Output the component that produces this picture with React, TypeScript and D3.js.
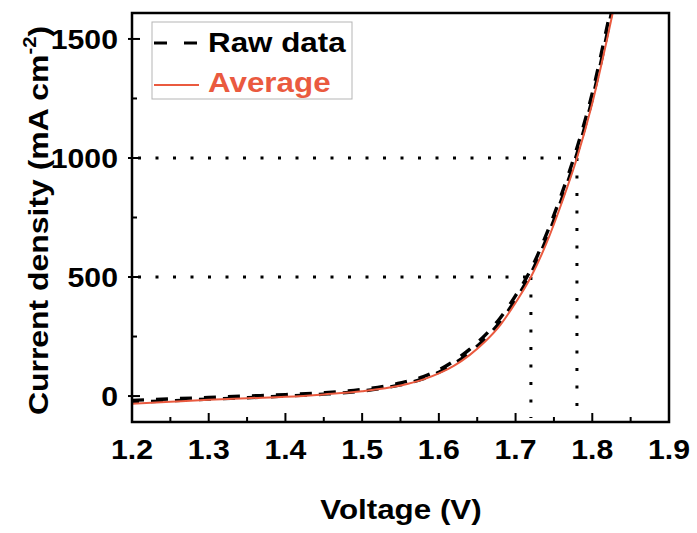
import * as d3 from 'd3'

// J–V data (V in volts, J in mA cm^-2)
const voltage = [1.2, 1.25, 1.3, 1.35, 1.4, 1.45, 1.5, 1.55, 1.58, 1.6, 1.62, 1.64, 1.66, 1.68, 1.7, 1.72, 1.74, 1.76, 1.78, 1.8, 1.82, 1.83]
const rawA = [-18, -12, -6, 0, 6, 14, 28, 55, 82, 110, 148, 196, 255, 328, 422, 532, 678, 848, 1042, 1272, 1562, 1710]
const rawB = [-26, -20, -13, -7, 0, 8, 21, 47, 73, 100, 136, 182, 240, 312, 405, 515, 658, 826, 1018, 1248, 1532, 1690]
const average = [-32, -24, -16, -9, -3, 7, 20, 44, 70, 95, 128, 172, 228, 298, 392, 500, 640, 810, 1000, 1230, 1510, 1660]

const xTicks = [1.2, 1.3, 1.4, 1.5, 1.6, 1.7, 1.8, 1.9]
const xMinor = [1.25, 1.35, 1.45, 1.55, 1.65, 1.75, 1.85]
const yTicks = [0, 500, 1000, 1500]
const yMinor = [250, 750, 1250]
// marked operating points: [V, J]
const guides = [[1.72, 500], [1.78, 1000]]

const W = 697, H = 533
const M = { left: 132, right: 669, top: 13, bottom: 422 }
const RED = '#ea5a3f'
const FONT = '"Liberation Sans", Arial, sans-serif'
const SX = 1.12 // the reference text is a bit wide

export default function App() {
  const x = d3.scaleLinear().domain([1.2, 1.9]).range([M.left, M.right])
  const y = d3.scaleLinear().domain([-109, 1609]).range([M.bottom, M.top])

  const line = (vals: number[]) =>
    d3.line<number>().x((_, i) => x(voltage[i])).y(d => y(d)).curve(d3.curveMonotoneX)(vals) || ''

  const txt = (s: string, tx: number, ty: number, size: number, anchor: string, fill = '#000') => (
    <text transform={`translate(${tx},${ty}) scale(${SX},1)`} textAnchor={anchor} fontSize={size}
      fontWeight="bold" fontFamily={FONT} fill={fill}>{s}</text>
  )

  return (
    <svg width={W} height={H} style={{ position: 'absolute', left: 0, top: 0, background: '#fff' }}>
      <defs>
        <clipPath id="plot">
          <rect x={M.left} y={M.top} width={M.right - M.left} height={M.bottom - M.top} />
        </clipPath>
      </defs>

      {/* guide lines */}
      {guides.map(([v, j]) => (
        <g key={v} stroke="#000" strokeWidth={3} strokeDasharray="3 14.5" fill="none">
          <line x1={M.left + 6} x2={x(v)} y1={y(j)} y2={y(j)} />
          <line x1={x(v)} x2={x(v)} y1={y(j)} y2={M.bottom - 4} />
        </g>
      ))}

      <g clipPath="url(#plot)" fill="none">
        <path d={line(rawA)} stroke="#000" strokeWidth={3.4} strokeDasharray="12 12" />
        <path d={line(rawB)} stroke="#000" strokeWidth={3.4} strokeDasharray="12 12" strokeDashoffset={5} />
        <path d={line(average)} stroke={RED} strokeWidth={2} />
      </g>

      {/* frame */}
      <rect x={M.left} y={M.top} width={M.right - M.left} height={M.bottom - M.top}
        fill="none" stroke="#000" strokeWidth={2.5} />

      {/* x ticks */}
      {xTicks.map(t => (
        <g key={t}>
          <line x1={x(t)} x2={x(t)} y1={M.bottom} y2={M.bottom - 9} stroke="#000" strokeWidth={2} />
          {txt(d3.format('.1f')(t), x(t), 459, 27, 'middle')}
        </g>
      ))}
      {xMinor.map(t => (
        <line key={t} x1={x(t)} x2={x(t)} y1={M.bottom} y2={M.bottom - 5} stroke="#000" strokeWidth={2} />
      ))}

      {/* y ticks */}
      {yTicks.map(t => (
        <g key={t}>
          <line x1={M.left - 4} x2={M.left + 8} y1={y(t)} y2={y(t)} stroke="#000" strokeWidth={2} />
          {txt(String(t), 118, y(t) + 10, 27, 'end')}
        </g>
      ))}
      {yMinor.map(t => (
        <line key={t} x1={M.left} x2={M.left + 5} y1={y(t)} y2={y(t)} stroke="#000" strokeWidth={2} />
      ))}

      {/* axis titles */}
      {txt('Voltage (V)', 401, 519, 28, 'middle')}
      <text transform={`translate(48,${(M.top + M.bottom) / 2 + 3}) rotate(-90) scale(${SX},1)`}
        textAnchor="middle" fontSize={28.5} fontWeight="bold" fontFamily={FONT}>
        Current density (mA cm<tspan dy={-12} fontSize={18}>-2</tspan><tspan dy={12}>)</tspan>
      </text>

      {/* legend */}
      <rect x={152} y={22} width={200} height={77} fill="#fff" stroke="#b5b5b5" strokeWidth={1} />
      <line x1={154} x2={200} y1={43} y2={43} stroke="#000" strokeWidth={3.2} strokeDasharray="13 17" />
      <line x1={154} x2={199} y1={85} y2={85} stroke={RED} strokeWidth={2} />
      {txt('Raw data', 208, 52, 28, 'start')}
      {txt('Average', 208, 92, 28, 'start', RED)}
    </svg>
  )
}
